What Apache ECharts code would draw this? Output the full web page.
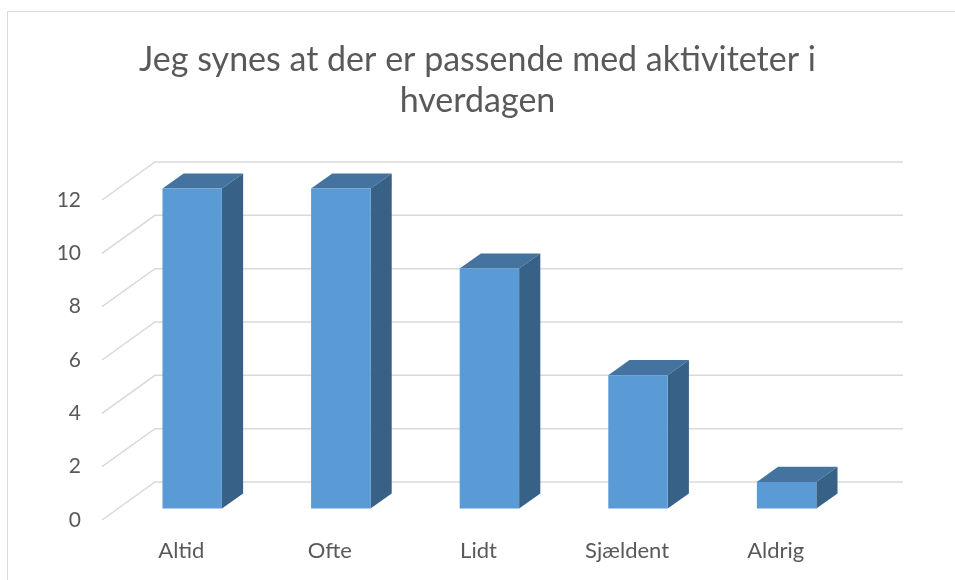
<!DOCTYPE html>
<html>
<head>
<meta charset="utf-8">
<script src="https://cdn.jsdelivr.net/npm/echarts@6/dist/echarts.min.js"></script>
<style>
  html, body { margin: 0; padding: 0; background: #fff; }
  #container { width: 955px; height: 580px; }
</style>
</head>
<body>
<div id="container"></div>
<script>
var categories = ['Altid', 'Ofte', 'Lidt', 'Sjældent', 'Aldrig'];
var values = [12, 12, 9, 5, 1];
var yTicks = [0, 2, 4, 6, 8, 10, 12];

var titleText = 'Jeg synes at der er passende med aktiviteter i\nhverdagen';

// depth of the floor (front -> back wall), bar sits in the middle of it
var depth = [53, -38];
var barFrom = 0.3, barTo = 0.7;

var colors = {
    text: '#595959',
    grid: '#d9d9d9',
    front: '#5b9bd5',
    top: '#44739f',
    side: '#386188'
};

var dom = document.getElementById('container');
var myChart = echarts.init(dom);

var option = {
    backgroundColor: '#fff',
    animation: false,
    title: {
        text: titleText,
        left: 'center',
        top: 35,
        textStyle: {
            fontFamily: 'Lato',
            fontWeight: 'normal',
            fontSize: 34,
            lineHeight: 41,
            color: colors.text
        }
    },
    graphic: [{
        type: 'rect',
        shape: { x: 7.5, y: 11.5, width: 1000, height: 1000 },
        style: { fill: null, stroke: colors.grid, lineWidth: 1 },
        silent: true
    }],
    grid: {
        left: 102,
        right: 110,
        top: 200,
        bottom: 60
    },
    xAxis: {
        type: 'category',
        data: categories,
        axisLine: { show: false },
        axisTick: { show: false },
        axisLabel: {
            margin: 20,
            padding: [0, 0, 0, 10],
            fontFamily: 'Lato',
            fontSize: 22,
            color: colors.text
        }
    },
    yAxis: {
        type: 'value',
        min: 0,
        max: 12,
        interval: 2,
        splitLine: { show: false },
        axisLine: { show: false },
        axisTick: { show: false },
        axisLabel: {
            margin: 21,
            fontFamily: 'Lato',
            fontSize: 21,
            color: colors.text
        }
    },
    series: [{
        type: 'custom',
        z: 1,
        silent: true,
        data: yTicks.map(function(t) { return [0, t]; }),
        renderItem: function(params, api) {
            var cs = params.coordSys;
            var y = api.coord([0, api.value(1)])[1];
            var x0 = cs.x;
            return {
                type: 'polyline',
                shape: {
                    points: [
                        [x0, y],
                        [x0 + depth[0], y + depth[1]],
                        [x0 + depth[0] + cs.width + 5, y + depth[1]]
                    ]
                },
                style: { fill: null, stroke: colors.grid, lineWidth: 1.5 }
            };
        }
    }, {
        type: 'custom',
        z: 2,
        data: values.map(function(v, i) { return [i, v]; }),
        renderItem: function(params, api) {
            var top = api.coord([api.value(0), api.value(1)]);
            var base = api.coord([api.value(0), 0]);
            var bw = api.size([1, 0])[0] * 0.4;
            var ox = depth[0] * barFrom, oy = depth[1] * barFrom;
            var dx = depth[0] * (barTo - barFrom), dy = depth[1] * (barTo - barFrom);
            var xl = top[0] - bw / 2 + ox, xr = top[0] + bw / 2 + ox;
            var yt = top[1] + oy, yb = base[1] + oy;
            return {
                type: 'group',
                children: [{
                    type: 'polygon',
                    shape: { points: [[xl, yt], [xl + dx, yt + dy], [xr + dx, yt + dy], [xr, yt]] },
                    style: { fill: colors.top }
                }, {
                    type: 'polygon',
                    shape: { points: [[xr, yt], [xr + dx, yt + dy], [xr + dx, yb + dy], [xr, yb]] },
                    style: { fill: colors.side }
                }, {
                    type: 'rect',
                    shape: { x: xl, y: yt, width: xr - xl, height: yb - yt },
                    style: { fill: colors.front }
                }]
            };
        }
    }]
};

myChart.setOption(option);
</script>
</body>
</html>
